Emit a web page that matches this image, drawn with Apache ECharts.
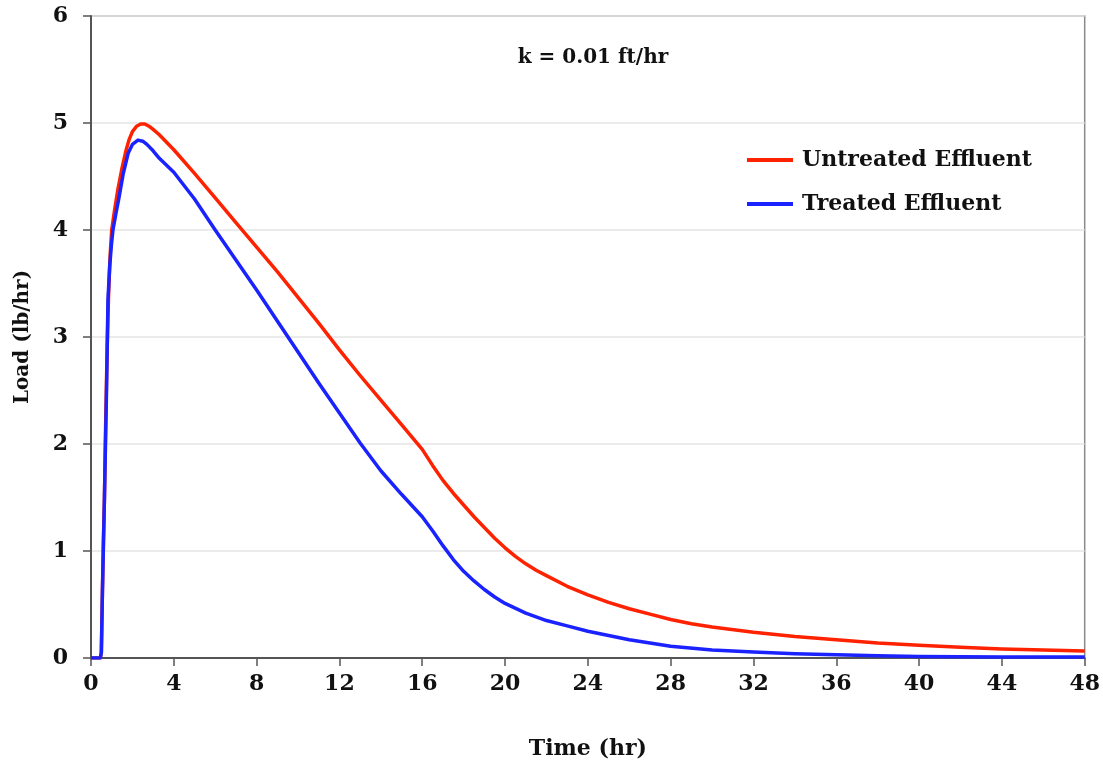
<!DOCTYPE html>
<html>
<head>
<meta charset="utf-8">
<script src="https://cdn.jsdelivr.net/npm/echarts@6/dist/echarts.min.js"></script>
<style>
html,body{margin:0;padding:0;background:#fff;}
#chart{width:1103px;height:768px;}
</style>
</head>
<body>
<div id="chart"></div>
<script>
// Time (hr) and load (lb/hr) values
const untreatedTime = [0, 0.45, 0.5, 0.55, 0.6, 0.65, 0.7, 0.75, 0.8, 0.85, 0.92, 1.0, 1.15, 1.3, 1.5, 1.7, 1.85, 2.0, 2.2, 2.4, 2.6, 2.8, 3.0, 3.3, 4, 5, 6, 7, 8, 9, 10, 11, 12, 13, 14, 15, 16, 16.5, 17, 17.5, 18, 18.5, 19, 19.5, 20, 20.5, 21, 21.5, 22, 23, 24, 25, 26, 27, 28, 29, 30, 32, 34, 36, 38, 40, 42, 44, 46, 48];
const untreatedLoad = [0, 0, 0.05, 0.6, 1.1, 1.5, 2.1, 2.6, 3.05, 3.4, 3.75, 4.0, 4.2, 4.38, 4.58, 4.75, 4.85, 4.92, 4.97, 4.99, 4.99, 4.97, 4.94, 4.89, 4.75, 4.53, 4.3, 4.07, 3.84, 3.61, 3.37, 3.13, 2.88, 2.64, 2.41, 2.18, 1.95, 1.8, 1.66, 1.54, 1.43, 1.32, 1.22, 1.12, 1.03, 0.95, 0.88, 0.82, 0.77, 0.67, 0.59, 0.52, 0.46, 0.41, 0.36, 0.32, 0.29, 0.24, 0.2, 0.17, 0.14, 0.12, 0.1, 0.085, 0.075, 0.065];

const treatedTime = [0, 0.45, 0.5, 0.55, 0.6, 0.65, 0.7, 0.75, 0.82, 0.9, 0.98, 1.06, 1.2, 1.35, 1.55, 1.8, 2.0, 2.27, 2.5, 2.7, 3.0, 3.3, 4, 5, 6, 7, 8, 9, 10, 11, 12, 13, 14, 15, 16, 16.5, 17, 17.5, 18, 18.5, 19, 19.5, 20, 21, 22, 23, 24, 25, 26, 27, 28, 30, 32, 34, 36, 38, 40, 44, 48];
const treatedLoad = [0, 0, 0.05, 0.6, 1.05, 1.5, 2.0, 2.5, 3.35, 3.65, 3.85, 4.0, 4.15, 4.3, 4.52, 4.72, 4.8, 4.84, 4.83, 4.8, 4.74, 4.67, 4.54, 4.29, 4.0, 3.72, 3.44, 3.15, 2.86, 2.57, 2.29, 2.01, 1.75, 1.53, 1.32, 1.19, 1.05, 0.92, 0.81, 0.72, 0.64, 0.57, 0.51, 0.42, 0.35, 0.3, 0.25, 0.21, 0.17, 0.14, 0.11, 0.075, 0.055, 0.04, 0.03, 0.02, 0.015, 0.01, 0.01];

const seriesNames = ['Untreated Effluent', 'Treated Effluent'];
const chartTitle = 'k = 0.01 ft/hr';
const xName = 'Time (hr)';
const yName = 'Load (lb/hr)';

const FONT = 'DejaVu Serif';
const txt = {fontFamily: FONT, fontWeight: 'bold', color: '#111'};

const pairs = (xs, ys) => xs.map((x, i) => [x, ys[i]]);

const chart = echarts.init(document.getElementById('chart'), null, {renderer: 'canvas'});
chart.setOption({
  animation: false,
  backgroundColor: '#fff',
  title: {
    text: chartTitle,
    left: 588, top: 43, textAlign: 'center',
    textStyle: Object.assign({}, txt, {fontSize: 20})
  },
  legend: {
    orient: 'vertical',
    left: 742, top: 143,
    itemWidth: 46, itemHeight: 4,
    itemGap: 20,
    icon: 'rect',
    textStyle: Object.assign({}, txt, {fontSize: 22, padding: [0, 0, 0, 4], lineHeight: 24}),
    data: seriesNames
  },
  grid: {
    left: 91, right: 17, top: 16, bottom: 110,
    show: true, borderColor: '#8a8a8a', borderWidth: 1.5, backgroundColor: 'transparent'
  },
  xAxis: {
    type: 'value', min: 0, max: 48, interval: 4,
    name: xName, nameLocation: 'middle', nameGap: 80,
    nameTextStyle: Object.assign({}, txt, {fontSize: 22}),
    axisLine: {show: true, lineStyle: {color: '#555', width: 2}},
    axisTick: {show: true, inside: false, length: 8, lineStyle: {color: '#555', width: 1.5}},
    axisLabel: Object.assign({}, txt, {fontSize: 22, margin: 15}),
    splitLine: {show: false}
  },
  yAxis: {
    type: 'value', min: 0, max: 6, interval: 1,
    name: yName, nameLocation: 'middle', nameGap: 58, nameRotate: 90,
    nameTextStyle: Object.assign({}, txt, {fontSize: 20}),
    axisLine: {show: true, lineStyle: {color: '#555', width: 2}},
    axisTick: {show: true, inside: false, length: 8, lineStyle: {color: '#555', width: 1.5}},
    axisLabel: Object.assign({}, txt, {fontSize: 22, margin: 23}),
    splitLine: {show: true, lineStyle: {color: '#e4e4e4', width: 1.5}}
  },
  series: [
    {
      name: seriesNames[0], type: 'line', data: pairs(untreatedTime, untreatedLoad),
      showSymbol: false, smooth: false,
      lineStyle: {color: '#ff2200', width: 3.5, join: 'round'}, itemStyle: {color: '#ff2200'}, z: 2
    },
    {
      name: seriesNames[1], type: 'line', data: pairs(treatedTime, treatedLoad),
      showSymbol: false, smooth: false,
      lineStyle: {color: '#1a22ff', width: 3.5, join: 'round'}, itemStyle: {color: '#1a22ff'}, z: 3
    }
  ]
});
</script>
</body>
</html>
